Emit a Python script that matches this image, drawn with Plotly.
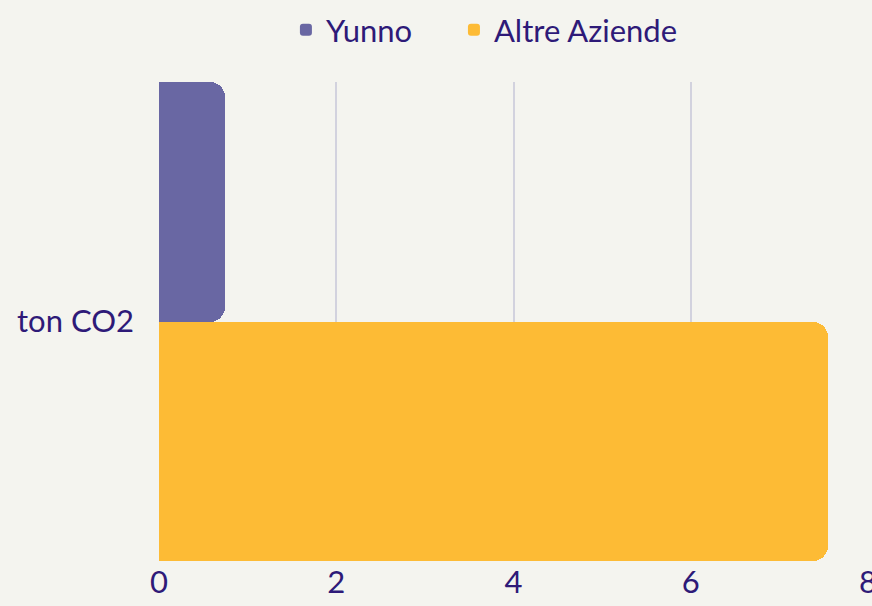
import plotly.graph_objects as go

categories = ["ton CO2"]
series_names = ["Yunno", "Altre Aziende"]
yunno_values = [0.75]
altre_values = [7.55]
x_ticks = [0, 2, 4, 6, 8]

colors = {"Yunno": "#6967A3", "Altre Aziende": "#FDBB35"}
text_color = "#2E1A78"
bg = "#F4F4EF"

fig = go.Figure()
for name, vals, lg in zip(series_names, [yunno_values, altre_values], ["legend", "legend2"]):
    fig.add_trace(go.Bar(
        y=categories, x=vals, name=name, orientation="h", legend=lg,
        marker=dict(color=colors[name], cornerradius=15, line=dict(width=0)),
        hoverinfo="x+name",
    ))

leg_common = dict(orientation="h", xanchor="left", y=0.995, yanchor="top",
                  yref="container", font=dict(size=31), bgcolor="rgba(0,0,0,0)")

fig.update_layout(
    width=872, height=606,
    barmode="group", bargap=0, bargroupgap=0,
    paper_bgcolor=bg, plot_bgcolor=bg,
    font=dict(family="Lato, Open Sans, sans-serif", color=text_color, size=30),
    margin=dict(l=159, r=4, t=82, b=45, autoexpand=False),
    showlegend=True,
    legend=dict(x=0.179, **leg_common),
    legend2=dict(x=0.416, **leg_common),
    xaxis=dict(range=[0, 8], tickvals=x_ticks, ticktext=[str(t) for t in x_ticks],
               showgrid=True, gridcolor="#D2D2DE", gridwidth=1.5,
               zeroline=False, showline=False, ticks="", automargin=False,
               ticklabeloverflow="allow",
               tickfont=dict(size=31, color=text_color)),
    yaxis=dict(autorange="reversed", showgrid=False, zeroline=False, showline=False,
               ticks="", automargin=False, ticklabelstandoff=24,
               tickfont=dict(size=31, color=text_color)),
)

fig.write_html("out.html", config={"displayModeBar": False},
               post_script="document.body.style.margin='0';")
